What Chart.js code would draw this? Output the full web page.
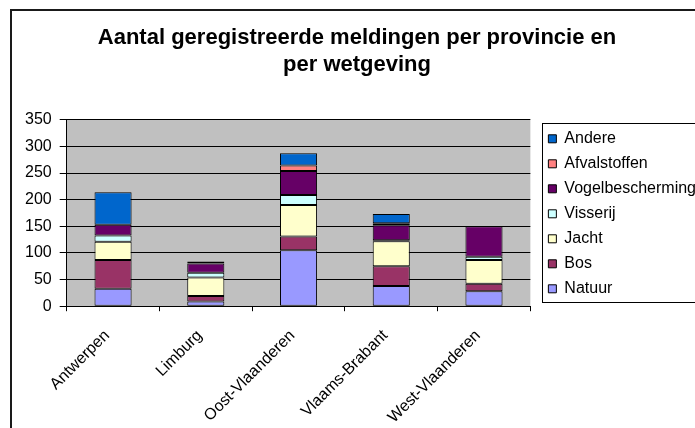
<!DOCTYPE html>
<html>
<head>
<meta charset="utf-8">
<script src="https://cdn.jsdelivr.net/npm/chart.js@4"></script>
<style>
  html, body { margin: 0; padding: 0; background: #fff; overflow: hidden; }
  #frame {
    position: absolute; left: 10px; top: 9px;
    width: 685px; height: 431px;
    border: 2px solid #1a1a1a;
  }
  canvas { display: block; }
</style>
</head>
<body>
<div id="frame"><canvas id="chart" width="685" height="431"></canvas></div>
<script>
// provincies
const provincies = ["Antwerpen", "Limburg", "Oost-Vlaanderen", "Vlaams-Brabant", "West-Vlaanderen"];

// aantal meldingen per wetgeving
const natuur = [33, 9, 105, 38, 28];
const bos = [54, 10, 26, 37, 14];
const jacht = [34, 35, 59, 47, 45];
const visserij = [12, 9, 19, 2, 6];
const vogelbescherming = [20, 17, 45, 28, 57];
const afvalstoffen = [0, 1, 10, 4, 0];
const andere = [61, 3, 23, 17, 0];

const titelRegels = ["Aantal geregistreerde meldingen per provincie en", "per wetgeving"];
const yTicks = [0, 50, 100, 150, 200, 250, 300, 350];

const font = "'Liberation Sans', Arial, sans-serif";
Chart.defaults.font.family = font;
Chart.defaults.color = '#000';

function reeks(label, data, kleur) {
  return {
    label: label,
    data: data,
    backgroundColor: kleur,
    borderColor: '#000',
    borderWidth: 1,
    borderSkipped: false,
    categoryPercentage: 1,
    barPercentage: 0.4
  };
}

// grijze achtergrond van het plotvlak
const plotAchtergrond = {
  id: 'plotAchtergrond',
  beforeDraw(chart) {
    const a = chart.chartArea;
    const ctx = chart.ctx;
    ctx.save();
    ctx.fillStyle = '#c0c0c0';
    ctx.fillRect(a.left, a.top, a.right - a.left, a.bottom - a.top);
    ctx.restore();
  }
};

// legenda naast het plotvlak zetten en een kader errond tekenen
const legendaKader = {
  id: 'legendaKader',
  afterLayout(chart) {
    const l = chart.legend;
    l.left += 9;
    l.right += 9;
    l.top = chart.chartArea.top + 2;
  },
  afterDraw(chart) {
    const l = chart.legend;
    const hb = l.legendHitBoxes;
    if (!hb || !hb.length) return;
    const ctx = chart.ctx;
    const top = Math.min(...hb.map(h => h.top)) - 8;
    const bottom = Math.max(...hb.map(h => h.top + h.height)) + 5;
    ctx.save();
    ctx.strokeStyle = '#000';
    ctx.lineWidth = 1;
    ctx.strokeRect(Math.round(l.left + 3) + 0.5, Math.round(top) + 0.5, 300, Math.round(bottom - top));
    ctx.restore();
  }
};

new Chart(document.getElementById('chart'), {
  type: 'bar',
  data: {
    labels: provincies,
    datasets: [
      reeks('Natuur', natuur, '#9999ff'),
      reeks('Bos', bos, '#993366'),
      reeks('Jacht', jacht, '#ffffcc'),
      reeks('Visserij', visserij, '#ccffff'),
      reeks('Vogelbescherming', vogelbescherming, '#660066'),
      reeks('Afvalstoffen', afvalstoffen, '#ff8080'),
      reeks('Andere', andere, '#0066cc')
    ]
  },
  options: {
    responsive: false,
    animation: false,
    layout: { padding: { left: 5, right: 0, top: 0, bottom: 0 } },
    scales: {
      x: {
        stacked: true,
        grid: { drawOnChartArea: false, drawTicks: true, tickLength: 5, color: '#000', offset: true },
        border: { display: true, color: '#000', width: 1 },
        ticks: { font: { size: 16 }, color: '#000', minRotation: 45, maxRotation: 45, autoSkip: false, padding: 15, labelOffset: -6 }
      },
      y: {
        stacked: true,
        min: 0,
        max: 350,
        afterBuildTicks(axis) { axis.ticks = yTicks.map(v => ({ value: v })); },
        grid: { color: '#000', lineWidth: 1, tickLength: 7 },
        border: { display: true, color: '#000', width: 1 },
        ticks: { font: { size: 16 }, color: '#000', padding: 8 }
      }
    },
    plugins: {
      title: {
        display: true,
        text: titelRegels,
        color: '#000',
        font: { size: 22, weight: 'bold' },
        padding: { top: 14, bottom: 42 }
      },
      legend: {
        position: 'right',
        fullSize: true,
        align: 'start',
        reverse: true,
        labels: {
          boxWidth: 8,
          boxHeight: 8,
          padding: 9,
          color: '#000',
          font: { size: 16 }
        }
      },
      tooltip: { enabled: false }
    }
  },
  plugins: [plotAchtergrond, legendaKader]
});
</script>
</body>
</html>
